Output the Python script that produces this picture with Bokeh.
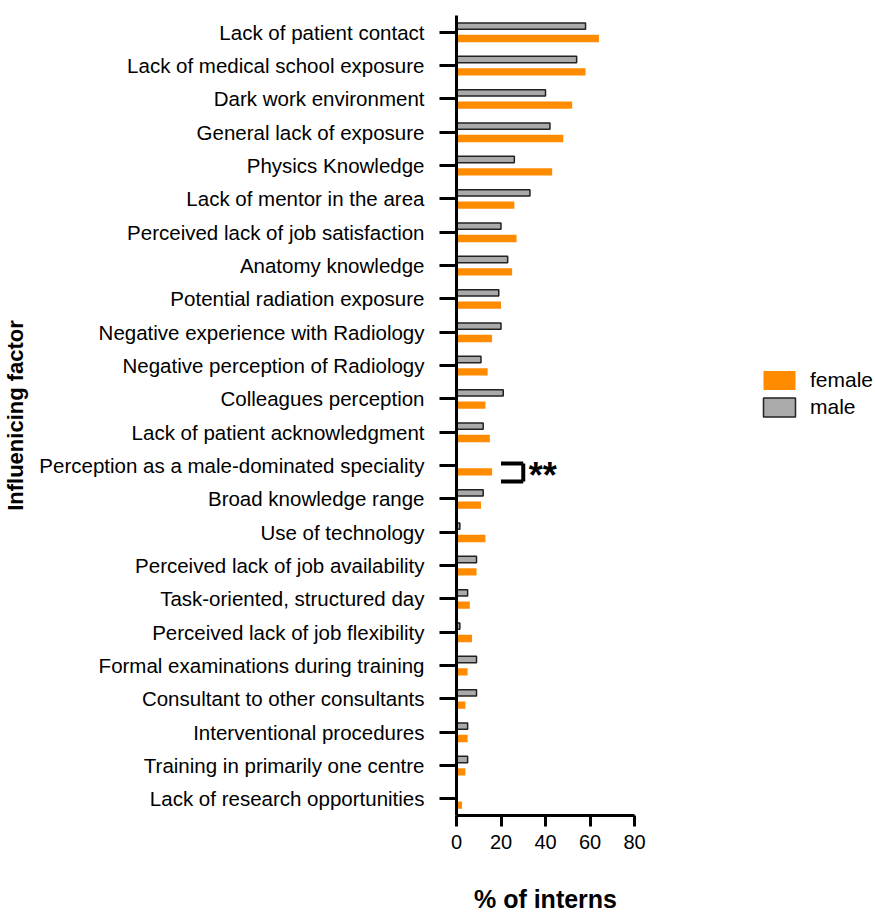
from bokeh.plotting import figure
from bokeh.models import FactorRange, ColumnDataSource, Legend, LegendItem, Range1d, FixedTicker
from bokeh.layouts import row
from bokeh.transform import dodge
from bokeh.core.properties import value
from bokeh.embed import file_html
from bokeh.resources import INLINE

categories = [
    "Lack of patient contact",
    "Lack of medical school exposure",
    "Dark work environment",
    "General lack of exposure",
    "Physics Knowledge",
    "Lack of mentor in the area",
    "Perceived lack of job satisfaction",
    "Anatomy knowledge",
    "Potential radiation exposure",
    "Negative experience with Radiology",
    "Negative perception of Radiology",
    "Colleagues perception",
    "Lack of patient acknowledgment",
    "Perception as a male-dominated speciality",
    "Broad knowledge range",
    "Use of technology",
    "Perceived lack of job availability",
    "Task-oriented, structured day",
    "Perceived lack of job flexibility",
    "Formal examinations during training",
    "Consultant to other consultants",
    "Interventional procedures",
    "Training in primarily one centre",
    "Lack of research opportunities",
]
female = [64, 58, 52, 48, 43, 26, 27, 25, 20, 16, 14, 13, 15, 16, 11, 13, 9, 6, 7, 5, 4, 5, 4, 2.5]
male = [58, 54, 40, 42, 26, 33, 20, 23, 19, 20, 11, 21, 12, 0, 12, 1.5, 9, 5, 1.5, 9, 9, 5, 5, 0]
x_ticks = [0, 20, 40, 60, 80]
sig_category = "Perception as a male-dominated speciality"
sig_label = "**"

FONT = "Liberation Sans"
ORANGE = "#ff8c00"
GREY = "#aaaaaa"

src = ColumnDataSource(dict(cat=categories, female=female, male=male))

p = figure(
    y_range=FactorRange(*reversed(categories)),
    x_range=Range1d(0, 80),
    frame_width=178, frame_height=800,
    min_border_left=455, min_border_right=40,
    min_border_top=15, min_border_bottom=97,
    output_backend="svg", toolbar_location=None,
)
p.outline_line_color = None
p.grid.visible = False

rm = p.hbar(y=dodge("cat", 0.18, range=p.y_range), right="male", left=0, height=0.19,
            source=src, fill_color=GREY, line_color="#222222", line_width=1.5)
rf = p.hbar(y=dodge("cat", -0.19, range=p.y_range), right="female", left=0, height=0.22,
            source=src, fill_color=ORANGE, line_color=None)

# significance bracket
bsrc = ColumnDataSource(dict(cat=[sig_category], x0=[20], x1=[30], tx=[32.5], lab=[sig_label]))
top = dodge("cat", 0.06, range=p.y_range)
bot = dodge("cat", -0.48, range=p.y_range)
p.segment(x0="x0", x1="x1", y0=top, y1=top, source=bsrc, line_color="black", line_width=4)
p.segment(x0="x0", x1="x1", y0=bot, y1=bot, source=bsrc, line_color="black", line_width=4)
p.segment(x0="x1", x1="x1", y0=top, y1=bot, source=bsrc, line_color="black", line_width=4)
p.text(x="tx", y=dodge("cat", -0.30, range=p.y_range), text="lab", source=bsrc,
       text_font=value(FONT), text_font_style="bold", text_font_size="36px",
       text_baseline="middle", text_align="left", text_color="black")

for ax in (p.xaxis[0], p.yaxis[0]):
    ax.axis_line_width = 3
    ax.axis_line_color = "black"
    ax.major_tick_line_width = 3
    ax.major_tick_line_color = "black"
    ax.minor_tick_line_color = None
    ax.major_tick_in = 0
    ax.major_label_text_font = FONT
    ax.major_label_text_font_size = "20px"
    ax.major_label_text_color = "black"
    ax.axis_label_text_font = FONT
    ax.axis_label_text_font_style = "bold"
    ax.axis_label_text_color = "black"

p.xaxis.ticker = FixedTicker(ticks=x_ticks)
p.xaxis.major_tick_out = 11
p.xaxis.major_label_standoff = 8
p.xaxis.axis_label = "% of interns"
p.xaxis.axis_label_text_font_size = "25px"
p.xaxis.axis_label_standoff = 33

p.yaxis.major_tick_out = 17
p.yaxis.major_label_standoff = 15
p.yaxis.major_label_text_font_size = "20.5px"
p.yaxis.axis_label = "Influenicing factor"
p.yaxis.axis_label_text_font_size = "22px"
p.yaxis.axis_label_standoff = 8

# legend panel
lg = figure(width=202, height=912, x_range=Range1d(0, 1), y_range=Range1d(0, 1),
            x_axis_location=None, y_axis_location=None,
            min_border_left=0, min_border_right=0, min_border_top=0, min_border_bottom=0,
            output_backend="svg", toolbar_location=None)
lg.outline_line_color = None
lg.grid.visible = False
offscreen = ColumnDataSource(dict(y=[10], right=[10]))
lf = lg.hbar(y="y", right="right", left=9, height=0.1, source=offscreen,
             fill_color=ORANGE, line_color=None)
lm = lg.hbar(y="y", right="right", left=9, height=0.1, source=offscreen,
             fill_color=GREY, line_color="#222222", line_width=1.5)
legend = Legend(items=[LegendItem(label="female", renderers=[lf]),
                       LegendItem(label="male", renderers=[lm])],
                location=(85, 393), border_line_color=None, background_fill_alpha=0,
                padding=0, margin=0,
                label_text_font=FONT, label_text_font_size="21px", label_text_color="black",
                glyph_width=40, glyph_height=24, label_height=24,
                spacing=3, label_standoff=11)
lg.add_layout(legend, "center")

layout = row(p, lg)
open("out.html", "w").write(file_html(layout, INLINE))
